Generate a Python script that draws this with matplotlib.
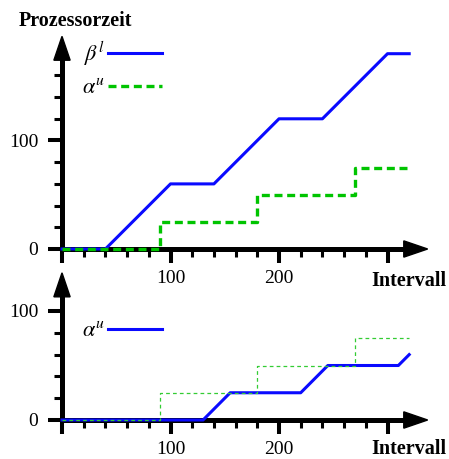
import numpy as np
import matplotlib
matplotlib.use("Agg")
import matplotlib.pyplot as plt
from matplotlib.patches import Polygon

plt.rcParams['font.family'] = ['Liberation Serif', 'DejaVu Serif']
plt.rcParams['mathtext.fontset'] = 'stix'

# data
beta_x = [0, 40, 100, 140, 200, 240, 300, 320]
beta_y = [0, 0, 60, 60, 120, 120, 180, 180]
alpha_x = [0, 90, 180, 270, 320]
alpha_y = [0, 25, 50, 75, 75]
out_x = [0, 130, 155, 220, 245, 310, 320]
out_y = [0, 0, 25, 25, 50, 50, 60]

W, H = 449, 459
BLUE = '#0a0aff'
GREEN = '#00c400'

fig = plt.figure(figsize=(W / 100, H / 100), dpi=100)


def make_axes(x0_px, y0_px, sx, sy, xlim, ylim):
    # place axes so that data (0,0) lands on pixel (x0_px, y0_px) (from top-left)
    left = x0_px + sx * xlim[0]
    right = x0_px + sx * xlim[1]
    top = y0_px - sy * ylim[1]
    bottom = y0_px - sy * ylim[0]
    ax = fig.add_axes([left / W, 1 - bottom / H, (right - left) / W, (bottom - top) / H])
    ax.set_xlim(*xlim)
    ax.set_ylim(*ylim)
    return ax


def style_axes(ax, yarrow_base, yarrow_tip, ymajor, yminor):
    ax.patch.set_visible(False)
    for s in ['top', 'right']:
        ax.spines[s].set_visible(False)
    for s in ['left', 'bottom']:
        ax.spines[s].set_position(('data', 0))
        ax.spines[s].set_linewidth(3.6)
        ax.spines[s].set_capstyle('butt')
    ax.spines['bottom'].set_bounds(0, 318)
    ax.spines['left'].set_bounds(0, yarrow_base + 2)
    ax.set_xticks([0, 100, 200, 300])
    ax.set_xticklabels(['', '100', '200', ''])
    ax.set_xticks(np.arange(20, 320, 20), minor=True)
    ax.set_yticks(ymajor)
    ax.set_yticklabels([str(v) for v in ymajor])
    ax.set_yticks(yminor, minor=True)
    ax.tick_params(which='major', direction='out', length=10, width=2.9, labelsize=14)
    ax.tick_params(axis='x', which='major', pad=5)
    ax.tick_params(axis='y', which='major', pad=7)
    ax.tick_params(which='minor', direction='out', length=5.8, width=2.2)
    # arrow heads
    ax.add_patch(Polygon([[315, -7.5], [337, 0], [315, 7.5]], closed=True,
                         color='black', clip_on=False, zorder=2.6))
    ax.add_patch(Polygon([[-7.5, yarrow_base], [0, yarrow_tip], [7.5, yarrow_base]],
                         closed=True, color='black', clip_on=False, zorder=2.6))


# top panel
ax1 = make_axes(62, 249, 1.085, 1.085, (-20, 345), (-20, 200))
style_axes(ax1, 174, 196, [0, 100], [20, 40, 60, 80, 120, 140, 160])
ax1.plot(beta_x, beta_y, color=BLUE, lw=2.2, zorder=3, clip_on=False,
         label=r'$\beta^{l}$')
ax1.step(alpha_x, alpha_y, where='post', color=GREEN, lw=2.4, zorder=4,
         clip_on=False, linestyle=(0, (2.4, 1.4)), label=r'$\alpha^{u}$')
ax1.legend(loc='upper left', bbox_to_anchor=(82 / W, 1 - 40 / H),
           bbox_transform=fig.transFigure, frameon=False, markerfirst=False,
           fontsize=16, handlelength=2.4, handletextpad=0.15, labelspacing=0.45,
           borderpad=0, borderaxespad=0)
fig.text(19 / W, 1 - 21 / H, 'Prozessorzeit', fontsize=14.5, fontweight='bold',
         ha='left', va='center')
fig.text(446 / W, 1 - 281 / H, 'Intervall', fontsize=14.5, fontweight='bold',
         ha='right', va='center')

# bottom panel
ax2 = make_axes(62, 420, 1.085, 1.09, (-20, 345), (-20, 140))
style_axes(ax2, 113, 135, [0, 100], [20, 40, 60, 80])
ax2.plot(out_x, out_y, color=BLUE, lw=2.2, zorder=3, clip_on=False,
         label=r'$\alpha^{u}$')
ax2.step(alpha_x, alpha_y, where='post', color='#33cc33', lw=0.9, zorder=4,
         clip_on=False, linestyle=(0, (3, 2.5)))
h, l = ax2.get_legend_handles_labels()
ax2.legend(h[:1], l[:1], loc='upper left', bbox_to_anchor=(82 / W, 1 - 321 / H),
           bbox_transform=fig.transFigure, frameon=False, markerfirst=False,
           fontsize=16, handlelength=2.4, handletextpad=0.15,
           borderpad=0, borderaxespad=0)
fig.text(446 / W, 1 - 449 / H, 'Intervall', fontsize=14.5, fontweight='bold',
         ha='right', va='center')

fig.savefig('out.png', dpi=100)
